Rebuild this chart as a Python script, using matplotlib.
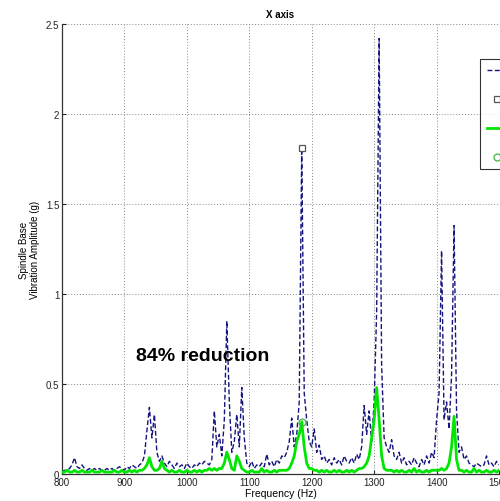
import numpy as np
import matplotlib

matplotlib.use("Agg")
import matplotlib.pyplot as plt

plt.rcParams["font.family"] = ["Liberation Sans", "DejaVu Sans"]

# frequency bins (Hz), 4 Hz spacing
FREQ = np.arange(800, 1501, 4)

BEFORE = [
    0.01, 0.02, 0.02, 0.03, 0.05, 0.09, 0.04, 0.03, 0.05, 0.03,
    0.02, 0.03, 0.02, 0.03, 0.02, 0.03, 0.02, 0.02, 0.03, 0.02,
    0.03, 0.02, 0.03, 0.04, 0.03, 0.02, 0.04, 0.03, 0.05, 0.04,
    0.03, 0.05, 0.06, 0.10, 0.24, 0.37, 0.20, 0.33, 0.12, 0.07,
    0.10, 0.06, 0.04, 0.07, 0.05, 0.03, 0.06, 0.04, 0.05, 0.03,
    0.06, 0.04, 0.03, 0.05, 0.04, 0.06, 0.05, 0.07, 0.06, 0.05,
    0.08, 0.35, 0.15, 0.22, 0.10, 0.30, 0.85, 0.40, 0.12, 0.18,
    0.33, 0.15, 0.48, 0.20, 0.06, 0.04, 0.07, 0.03, 0.05, 0.04,
    0.06, 0.04, 0.11, 0.05, 0.07, 0.04, 0.08, 0.06, 0.10, 0.09,
    0.12, 0.18, 0.31, 0.15, 0.22, 0.40, 1.81, 0.45, 0.30, 0.18,
    0.15, 0.25, 0.12, 0.16, 0.08, 0.10, 0.06, 0.08, 0.05, 0.09,
    0.06, 0.08, 0.05, 0.10, 0.07, 0.06, 0.09, 0.06, 0.11, 0.08,
    0.15, 0.38, 0.22, 0.35, 0.18, 0.40, 0.90, 2.42, 0.60, 0.20,
    0.15, 0.12, 0.19, 0.10, 0.08, 0.12, 0.06, 0.09, 0.05, 0.07,
    0.05, 0.09, 0.06, 0.04, 0.08, 0.05, 0.10, 0.06, 0.12, 0.09,
    0.30, 0.45, 1.24, 0.30, 0.40, 0.25, 0.55, 1.38, 0.35, 0.12,
    0.15, 0.08, 0.10, 0.06, 0.05, 0.04, 0.06, 0.05, 0.04, 0.05,
    0.10, 0.05, 0.06, 0.04, 0.07, 0.05,
]

AFTER = [
    0.01, 0.01, 0.02, 0.01, 0.01, 0.02, 0.01, 0.01, 0.02, 0.01,
    0.01, 0.01, 0.02, 0.01, 0.01, 0.01, 0.02, 0.01, 0.01, 0.01,
    0.01, 0.02, 0.01, 0.01, 0.02, 0.01, 0.01, 0.02, 0.01, 0.02,
    0.01, 0.02, 0.02, 0.03, 0.05, 0.09, 0.04, 0.02, 0.02, 0.03,
    0.07, 0.03, 0.02, 0.01, 0.02, 0.01, 0.01, 0.02, 0.01, 0.01,
    0.02, 0.01, 0.01, 0.02, 0.01, 0.02, 0.01, 0.02, 0.02, 0.03,
    0.02, 0.03, 0.02, 0.03, 0.03, 0.06, 0.12, 0.08, 0.03, 0.02,
    0.10, 0.07, 0.03, 0.02, 0.01, 0.01, 0.02, 0.01, 0.01, 0.01,
    0.03, 0.01, 0.02, 0.01, 0.01, 0.02, 0.01, 0.02, 0.02, 0.02,
    0.02, 0.03, 0.06, 0.10, 0.18, 0.22, 0.29, 0.15, 0.06, 0.03,
    0.03, 0.02, 0.02, 0.01, 0.02, 0.01, 0.02, 0.01, 0.01, 0.02,
    0.01, 0.02, 0.01, 0.01, 0.02, 0.01, 0.02, 0.01, 0.02, 0.03,
    0.03, 0.04, 0.06, 0.10, 0.20, 0.30, 0.48, 0.30, 0.10, 0.03,
    0.02, 0.02, 0.02, 0.01, 0.02, 0.01, 0.02, 0.01, 0.01, 0.02,
    0.01, 0.03, 0.01, 0.02, 0.01, 0.01, 0.02, 0.01, 0.02, 0.02,
    0.02, 0.02, 0.03, 0.02, 0.03, 0.06, 0.15, 0.32, 0.08, 0.02,
    0.02, 0.01, 0.02, 0.01, 0.01, 0.03, 0.01, 0.02, 0.01, 0.01,
    0.02, 0.01, 0.01, 0.02, 0.01, 0.02,
]

LABELS = ["Before", "Max before", "After", "Max after"]

BLUE = "#14147e"
GREEN = "#00e600"

fig = plt.figure(figsize=(5.0, 5.02), dpi=100)
ax = fig.add_axes([0.124, 0.054, 0.874, 0.896])

before = np.array(BEFORE)
after = np.array(AFTER)

ax.plot(FREQ, before, color=BLUE, lw=1.0, dashes=(3.5, 1.8), label=LABELS[0], zorder=2)
i_b = int(np.argmax(np.where((FREQ > 1150) & (FREQ < 1220), before, 0)))
ax.plot(FREQ[i_b], before[i_b], "s", ms=5, mfc="white", mec="#555555", mew=0.9,
        label=LABELS[1], zorder=4)
ax.plot(FREQ, after, color=GREEN, lw=2.0, label=LABELS[2], zorder=3)
i_a = int(np.argmax(np.where((FREQ > 1150) & (FREQ < 1220), after, 0)))
ax.plot(FREQ[i_a], after[i_a], "o", ms=5, mfc="none", mec="#3cb83c", mew=0.9,
        label=LABELS[3], zorder=4)

ax.set_xlim(800, 1500)
ax.set_ylim(0, 2.5)
ax.set_xticks(np.arange(800, 1501, 100))
ax.set_yticks([0, 0.5, 1, 1.5, 2, 2.5])
ax.set_yticklabels(["0", "0.5", "1", "1.5", "2", "2.5"])
ax.grid(True, linestyle=(0, (1, 2)), color="#888888", lw=0.7)
ax.set_axisbelow(True)
ax.tick_params(direction="in", length=3, labelsize=7, pad=2, colors="#222222")
for side in ("top", "right"):
    ax.spines[side].set_visible(False)
for side in ("left", "bottom"):
    ax.spines[side].set_color("#333333")
    ax.spines[side].set_linewidth(0.9)

ax.set_xlabel("Frequency (Hz)", fontsize=7.5, labelpad=1)
ax.set_ylabel("Spindle Base\nVibration Amplitude (g)", fontsize=7, labelpad=4)
ax.set_title("X axis", fontsize=7, fontweight="bold", pad=5)

ax.text(1026, 0.66, "84% reduction", fontsize=14, fontweight="bold",
        ha="center", va="center", color="black")

leg = fig.legend(loc="upper left", bbox_to_anchor=(0.96, 0.88), fontsize=8,
                 frameon=True, fancybox=False, edgecolor="black",
                 labelspacing=1.7, borderpad=0.6, borderaxespad=0,
                 handlelength=1.8)
leg.get_frame().set_linewidth(0.8)

fig.savefig("out.png", dpi=100)
